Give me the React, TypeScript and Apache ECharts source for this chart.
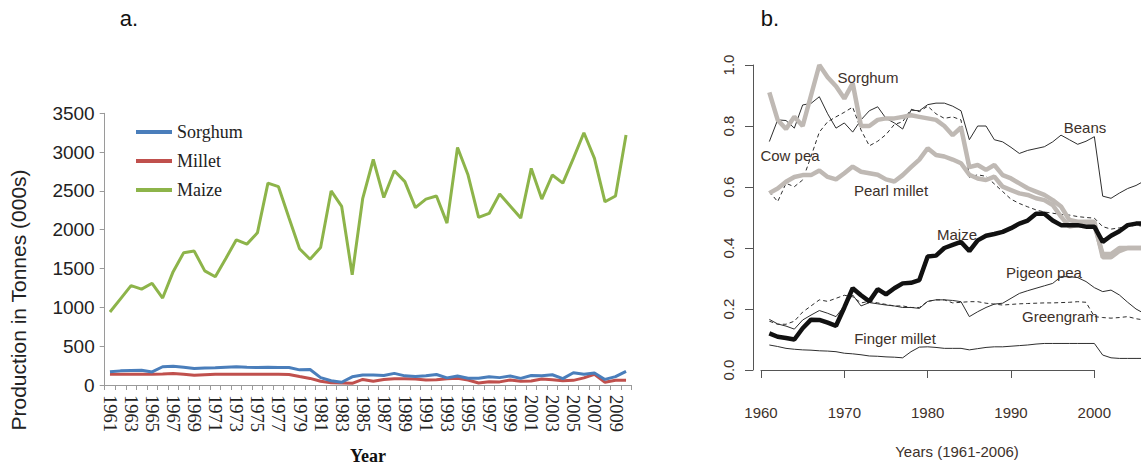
import React, { useEffect, useRef } from "react";
import * as echarts from "echarts";

// ---------- Panel a: production (000s tonnes), 1961-2010 ----------
const yearsA = [
  "1961","1962","1963","1964","1965","1966","1967","1968","1969","1970",
  "1971","1972","1973","1974","1975","1976","1977","1978","1979","1980",
  "1981","1982","1983","1984","1985","1986","1987","1988","1989","1990",
  "1991","1992","1993","1994","1995","1996","1997","1998","1999","2000",
  "2001","2002","2003","2004","2005","2006","2007","2008","2009","2010",
];
const sorghumA = [
  170, 182, 188, 190, 168, 235, 242, 228, 212, 220,
  222, 230, 235, 228, 225, 230, 226, 226, 195, 200,
  95, 55, 35, 105, 130, 128, 122, 150, 118, 110,
  118, 135, 92, 115, 88, 86, 105, 95, 115, 85,
  122, 120, 132, 82, 158, 138, 155, 72, 108, 175,
];
const milletA = [
  140, 138, 138, 138, 138, 142, 148, 138, 125, 132,
  138, 138, 140, 138, 138, 138, 138, 136, 110, 85,
  48, 30, 26, 22, 72, 48, 72, 80, 80, 76,
  64, 68, 80, 86, 64, 26, 42, 40, 64, 48,
  52, 76, 68, 56, 60, 92, 138, 36, 60, 60,
];
const maizeA = [
  940, 1110, 1280, 1235, 1310, 1120, 1460, 1705, 1725, 1470,
  1395, 1630, 1870, 1815, 1960, 2600, 2555, 2150, 1755, 1620,
  1770, 2500, 2300, 1420, 2405, 2905, 2415, 2760, 2620, 2285,
  2395, 2435, 2085, 3060, 2705, 2160, 2210, 2460, 2305, 2150,
  2790, 2395, 2705, 2600, 2920, 3250, 2920, 2360, 2435, 3220,
];

// ---------- Panel b: relative index, 1961-2006 ----------
const yearsB = [
  1961, 1962, 1963, 1964, 1965, 1966, 1967, 1968, 1969, 1970,
  1971, 1972, 1973, 1974, 1975, 1976, 1977, 1978, 1979, 1980,
  1981, 1982, 1983, 1984, 1985, 1986, 1987, 1988, 1989, 1990,
  1991, 1992, 1993, 1994, 1995, 1996, 1997, 1998, 1999, 2000,
  2001, 2002, 2003, 2004, 2005, 2006,
];
const sorghumB = [
  0.91, 0.82, 0.79, 0.83, 0.80, 0.90, 1.00, 0.96, 0.93, 0.89,
  0.94, 0.80, 0.80, 0.82, 0.825, 0.825, 0.83, 0.835, 0.83, 0.825,
  0.82, 0.80, 0.77, 0.795, 0.665, 0.672, 0.656, 0.672, 0.639, 0.628,
  0.612, 0.596, 0.585, 0.574, 0.557, 0.536, 0.492, 0.486, 0.486, 0.486,
  0.37, 0.37, 0.39, 0.40, 0.40, 0.40,
];
const pearlMilletB = [
  0.58, 0.595, 0.617, 0.633, 0.639, 0.639, 0.654, 0.633, 0.625, 0.645,
  0.667, 0.65, 0.645, 0.64, 0.625, 0.618, 0.639, 0.665, 0.69, 0.727,
  0.705, 0.70, 0.69, 0.678, 0.64, 0.628, 0.623, 0.634, 0.601, 0.59,
  0.579, 0.574, 0.563, 0.557, 0.541, 0.503, 0.47, 0.475, 0.47, 0.475,
  0.38, 0.38, 0.40, 0.40, 0.40, 0.40,
];
const maizeB = [
  0.12, 0.109, 0.105, 0.10, 0.137, 0.165, 0.164, 0.155, 0.145, 0.205,
  0.268, 0.245, 0.225, 0.265, 0.248, 0.268, 0.284, 0.286, 0.295, 0.372,
  0.375, 0.40, 0.41, 0.42, 0.39, 0.425, 0.44, 0.446, 0.453, 0.465,
  0.48, 0.49, 0.512, 0.512, 0.49, 0.475, 0.475, 0.475, 0.47, 0.47,
  0.42, 0.44, 0.455, 0.475, 0.48, 0.48,
];
const beansB = [
  0.749, 0.82, 0.818, 0.793, 0.869, 0.874, 0.896, 0.84, 0.793, 0.81,
  0.78, 0.82, 0.85, 0.863, 0.825, 0.81, 0.79, 0.852, 0.85, 0.87,
  0.875, 0.875, 0.865, 0.85, 0.755, 0.80, 0.80, 0.755, 0.748, 0.73,
  0.71, 0.72, 0.726, 0.732, 0.748, 0.77, 0.755, 0.74, 0.75, 0.765,
  0.57, 0.563, 0.58, 0.595, 0.605, 0.62,
];
const cowPeaB = [
  0.585, 0.552, 0.612, 0.601, 0.623, 0.70, 0.78, 0.814, 0.83, 0.845,
  0.862, 0.787, 0.735, 0.75, 0.772, 0.805, 0.814, 0.855, 0.847, 0.865,
  0.84, 0.825, 0.83, 0.82, 0.632, 0.64, 0.635, 0.61, 0.585, 0.56,
  0.546, 0.535, 0.525, 0.518, 0.514, 0.51, 0.508, 0.503, 0.50, 0.498,
  0.47, 0.462, 0.466, 0.47, 0.475, 0.47,
];
const pigeonPeaB = [
  0.166, 0.151, 0.144, 0.134, 0.164, 0.18, 0.195, 0.186, 0.175, 0.21,
  0.246, 0.21, 0.221, 0.217, 0.213, 0.21, 0.205, 0.205, 0.202, 0.225,
  0.23, 0.23, 0.228, 0.224, 0.175, 0.191, 0.205, 0.216, 0.219, 0.235,
  0.251, 0.26, 0.268, 0.276, 0.284, 0.306, 0.306, 0.303, 0.29, 0.27,
  0.257, 0.262, 0.246, 0.222, 0.20, 0.185,
];
const greengramB = [
  0.16, 0.15, 0.15, 0.16, 0.19, 0.21, 0.23, 0.225, 0.235, 0.245,
  0.24, 0.22, 0.225, 0.22, 0.215, 0.21, 0.21, 0.205, 0.205, 0.225,
  0.23, 0.23, 0.22, 0.222, 0.224, 0.224, 0.219, 0.216, 0.213, 0.215,
  0.217, 0.218, 0.219, 0.22, 0.22, 0.221, 0.222, 0.224, 0.222, 0.175,
  0.172, 0.17, 0.172, 0.175, 0.168, 0.164,
];
const fingerMilletB = [
  0.082, 0.077, 0.071, 0.068, 0.066, 0.065, 0.063, 0.062, 0.06, 0.055,
  0.053, 0.05, 0.046, 0.045, 0.043, 0.042, 0.04, 0.06, 0.075, 0.076,
  0.074, 0.071, 0.071, 0.071, 0.066, 0.07, 0.074, 0.076, 0.076, 0.078,
  0.08, 0.082, 0.085, 0.087, 0.087, 0.087, 0.087, 0.087, 0.087, 0.087,
  0.049, 0.04, 0.038, 0.038, 0.038, 0.038,
];

const pairs = (vals: number[]) => yearsB.map((y, i) => [y, vals[i]]);

const SANS = "Liberation Sans";
const SERIF = "Liberation Serif";
const BROWN = "#3d312a";

export default function App() {
  const ref = useRef<HTMLDivElement>(null);

  useEffect(() => {
    if (!ref.current) return;
    const chart = echarts.init(ref.current, undefined, { renderer: "svg" });

    // panel b data live on grid 1 (x 1960..2010, hidden axes);
    // visible R-style axes live on grid 2 (x 1960..2000)
    const thin = (name: string, data: number[], dashed = false) => ({
      name,
      type: "line",
      xAxisIndex: 1,
      yAxisIndex: 1,
      data: pairs(data),
      symbol: "none",
      lineStyle: { color: "#2e2e2e", width: 1, type: dashed ? [4, 3] : "solid" },
      z: 3,
    });
    const thick = (name: string, data: number[], color: string, z: number) => ({
      name,
      type: "line",
      xAxisIndex: 1,
      yAxisIndex: 1,
      data: pairs(data),
      symbol: "none",
      lineStyle: { color, width: 4.5 },
      z,
    });

    const bLabel = (text: string, x: number, y: number) => ({
      type: "text",
      x,
      y,
      style: {
        text,
        fill: BROWN,
        font: `15px "${SANS}"`,
        align: "center",
        verticalAlign: "middle",
      },
      z: 10,
    });

    const plain = (v: number) => String(v);

    chart.setOption({
      animation: false,
      backgroundColor: "#ffffff",
      legend: {
        data: ["Sorghum", "Millet", "Maize"],
        orient: "vertical",
        left: 131,
        top: 118,
        icon: "rect",
        itemWidth: 36,
        itemHeight: 4,
        itemGap: 11,
        selectedMode: false,
        textStyle: { fontFamily: SERIF, fontSize: 18, color: "#222" },
      },
      grid: [
        { left: 104.7, top: 113.3, width: 526.6, height: 271.7 },
        { left: 761, top: 65, width: 416.7, height: 305 },
        { left: 761, top: 65, width: 333.3, height: 305 },
      ],
      xAxis: [
        {
          type: "category",
          gridIndex: 0,
          data: yearsA,
          boundaryGap: true,
          axisLine: { lineStyle: { color: "#9a9a9a", width: 1 } },
          axisTick: { show: true, interval: 0, length: 5, lineStyle: { color: "#9a9a9a" } },
          axisLabel: {
            interval: 1,
            rotate: -90,
            margin: 10,
            fontFamily: SERIF,
            fontSize: 18.5,
            color: "#222",
          },
          splitLine: { show: false },
        },
        {
          type: "value",
          gridIndex: 1,
          min: 1960,
          max: 2010,
          show: false,
        },
        {
          type: "value",
          gridIndex: 2,
          min: 1960,
          max: 2000,
          interval: 10,
          offset: 13,
          axisLine: { lineStyle: { color: "#555", width: 1 } },
          axisTick: { show: true, length: 8, lineStyle: { color: "#555" } },
          axisLabel: {
            margin: 22,
            fontFamily: SANS,
            fontSize: 15,
            color: BROWN,
            formatter: plain,
          },
          splitLine: { show: false },
        },
      ],
      yAxis: [
        {
          type: "value",
          gridIndex: 0,
          min: 0,
          max: 3500,
          interval: 500,
          axisLine: { show: true, lineStyle: { color: "#9a9a9a", width: 1 } },
          axisTick: { show: true, length: 5, lineStyle: { color: "#9a9a9a" } },
          axisLabel: {
            margin: 10,
            fontFamily: SANS,
            fontSize: 19,
            color: "#222",
            formatter: plain,
          },
          splitLine: { show: false },
        },
        {
          type: "value",
          gridIndex: 1,
          min: 0,
          max: 1,
          show: false,
        },
        {
          type: "value",
          gridIndex: 2,
          min: 0,
          max: 1,
          interval: 0.2,
          offset: 8,
          axisLine: { show: true, lineStyle: { color: "#555", width: 1 } },
          axisTick: { show: true, length: 8, lineStyle: { color: "#555" } },
          axisLabel: {
            rotate: 90,
            margin: 17,
            fontFamily: SANS,
            fontSize: 15,
            color: BROWN,
            formatter: (v: number) => v.toFixed(1),
          },
          splitLine: { show: false },
        },
      ],
      series: [
        {
          name: "Sorghum",
          type: "line",
          data: sorghumA,
          symbol: "none",
          lineStyle: { color: "#4a7ebb", width: 3 },
          itemStyle: { color: "#4a7ebb" },
          z: 4,
        },
        {
          name: "Millet",
          type: "line",
          data: milletA,
          symbol: "none",
          lineStyle: { color: "#c0504d", width: 3 },
          itemStyle: { color: "#c0504d" },
          z: 3,
        },
        {
          name: "Maize",
          type: "line",
          data: maizeA,
          symbol: "none",
          lineStyle: { color: "#8db44a", width: 3 },
          itemStyle: { color: "#8db44a" },
          z: 3,
        },
        thin("Beans (b)", beansB),
        thin("Cow pea (b)", cowPeaB, true),
        thin("Pigeon pea (b)", pigeonPeaB),
        thin("Greengram (b)", greengramB, true),
        thin("Finger millet (b)", fingerMilletB),
        thick("Pearl millet (b)", pearlMilletB, "#bfb9b4", 4),
        thick("Sorghum (b)", sorghumB, "#bfb9b4", 4),
        thick("Maize (b)", maizeB, "#111111", 5),
      ],
      graphic: [
        {
          type: "text",
          x: 129,
          y: 18,
          style: { text: "a.", fill: "#111", font: `22px "${SANS}"`, align: "center", verticalAlign: "middle" },
        },
        {
          type: "text",
          x: 770,
          y: 18,
          style: { text: "b.", fill: "#111", font: `22px "${SANS}"`, align: "center", verticalAlign: "middle" },
        },
        {
          type: "text",
          x: 18,
          y: 300,
          rotation: Math.PI / 2,
          style: {
            text: "Production in Tonnes (000s)",
            fill: "#222",
            font: `21px "${SANS}"`,
            align: "center",
            verticalAlign: "middle",
          },
        },
        {
          type: "text",
          x: 368,
          y: 456,
          style: {
            text: "Year",
            fill: "#111",
            font: `bold 18px "${SERIF}"`,
            align: "center",
            verticalAlign: "middle",
          },
        },
        {
          type: "text",
          x: 957,
          y: 451,
          style: {
            text: "Years (1961-2006)",
            fill: BROWN,
            font: `15px "${SANS}"`,
            align: "center",
            verticalAlign: "middle",
          },
        },
        bLabel("Sorghum", 868, 77),
        bLabel("Cow pea", 790, 155),
        bLabel("Pearl millet", 891, 190),
        bLabel("Beans", 1085, 127),
        bLabel("Maize", 957, 234),
        bLabel("Pigeon pea", 1044, 272),
        bLabel("Greengram", 1060, 316),
        bLabel("Finger millet", 895, 338),
      ],
    });

    return () => chart.dispose();
  }, []);

  return (
    <div
      style={{
        position: "fixed",
        left: 0,
        top: 0,
        width: 1141,
        height: 466,
        overflow: "hidden",
        background: "#fff",
      }}
    >
      <div ref={ref} style={{ width: 1200, height: 466 }} />
    </div>
  );
}
